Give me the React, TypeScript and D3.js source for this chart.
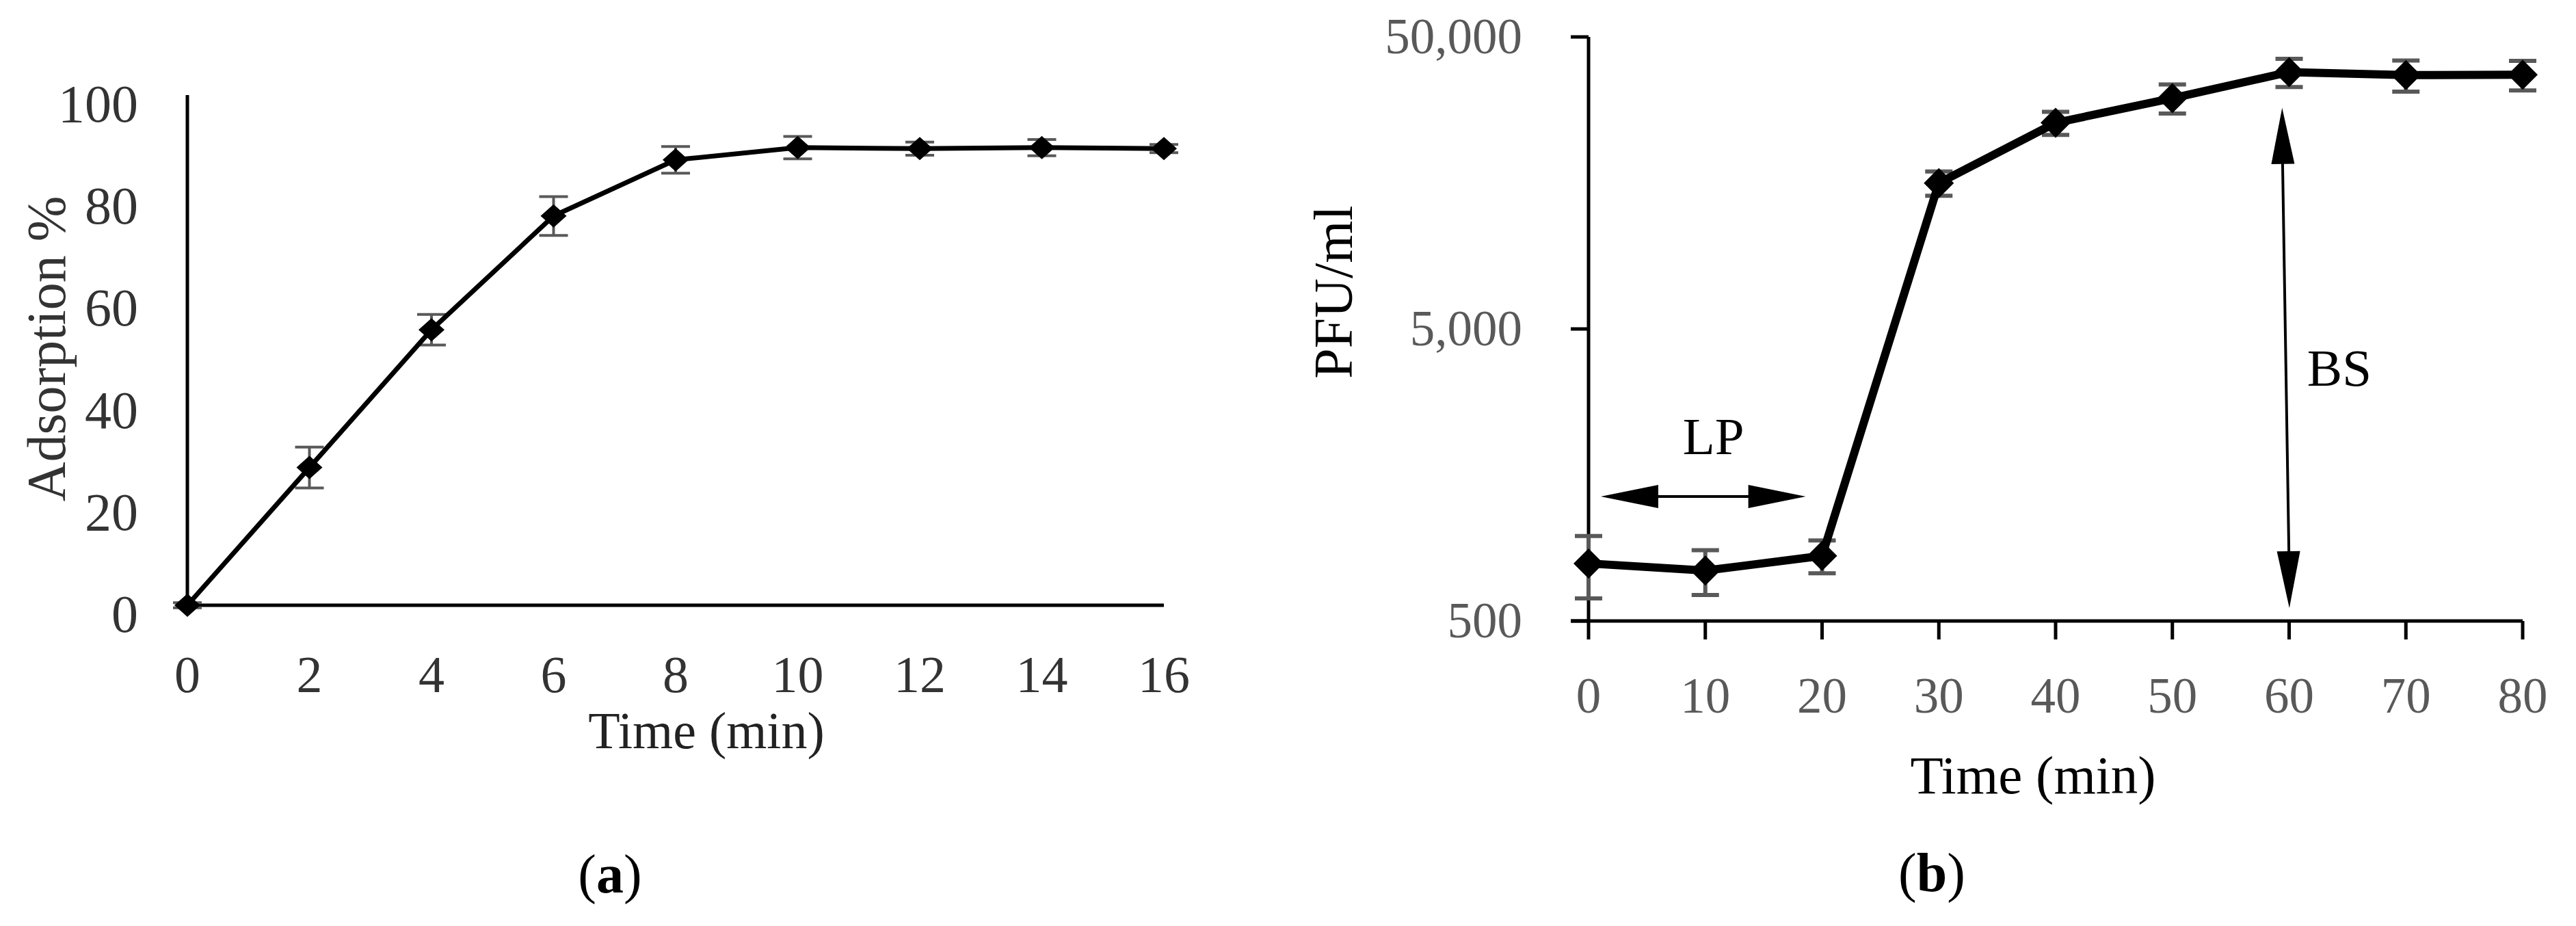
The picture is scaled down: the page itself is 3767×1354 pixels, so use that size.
import React from "react";
import * as d3 from "d3";

// ---------- Panel (a): adsorption ----------
const adsTime = [0, 2, 4, 6, 8, 10, 12, 14, 16];
const adsValue = [0, 27, 54, 76.3, 87.3, 89.7, 89.5, 89.7, 89.5];
const adsErr = [0.5, 4, 3, 3.8, 2.6, 2.2, 1.3, 1.6, 0.8];
const adsYTicks = [0, 20, 40, 60, 80, 100];
const adsXTicks = [0, 2, 4, 6, 8, 10, 12, 14, 16];

// ---------- Panel (b): one-step growth ----------
const pfuTime = [0, 10, 20, 30, 40, 50, 60, 70, 80];
const pfuValue = [787, 744, 836, 15800, 25400, 30850, 37900, 37000, 37100];
const pfuErr = [190, 130, 108, 1500, 2300, 3500, 4200, 4500, 4300];
const pfuYTicks = [500, 5000, 50000];
const pfuXTicks = [0, 10, 20, 30, 40, 50, 60, 70, 80];

// annotations (data units)
const lpArrow = { t0: 1.05, t1: 18.6, v: 1335 };
const lpLabel = { t: 10.7, text: "LP" };
const bsArrow = { t0: 59.4, v0: 28570, t1: 60.02, v1: 554 };
const bsLabel = { t: 64.3, text: "BS" };

const W = 3767;
const H = 1354;

function diamond(x: number, y: number, rx: number, ry: number) {
  return `M${x},${y - ry}L${x + rx},${y}L${x},${y + ry}L${x - rx},${y}Z`;
}

function arrowHead(x: number, y: number, angle: number, len: number, half: number) {
  const bx = x - Math.cos(angle) * len;
  const by = y - Math.sin(angle) * len;
  const px = -Math.sin(angle) * half;
  const py = Math.cos(angle) * half;
  return `M${x},${y}L${bx + px},${by + py}L${bx - px},${by - py}Z`;
}

export default function App() {
  const xA = d3.scaleLinear().domain([0, 16]).range([274, 1702]);
  const yA = d3.scaleLinear().domain([0, 100]).range([885, 139]);
  const lineA = d3
    .line<number>()
    .x((_, i) => xA(adsTime[i]))
    .y((d) => yA(d));

  const xB = d3.scaleLinear().domain([0, 80]).range([2323, 3689]);
  const yB = d3.scaleLog().domain([500, 50000]).range([908, 54]);
  const lineB = d3
    .line<number>()
    .x((_, i) => xB(pfuTime[i]))
    .y((d) => yB(d));

  const font = "'Liberation Serif', 'Times New Roman', serif";

  const lpx0 = xB(lpArrow.t0);
  const lpx1 = xB(lpArrow.t1);
  const lpy = yB(lpArrow.v);
  const bsx0 = xB(bsArrow.t0);
  const bsy0 = yB(bsArrow.v0);
  const bsx1 = xB(bsArrow.t1);
  const bsy1 = yB(bsArrow.v1);
  const bsAng = Math.atan2(bsy1 - bsy0, bsx1 - bsx0);

  return (
    <svg
      width={W}
      height={H}
      viewBox={`0 0 ${W} ${H}`}
      style={{ position: "absolute", left: 0, top: 0, background: "#fff" }}
    >
      <rect x={0} y={0} width={W} height={H} fill="#fff" />

      {/* ================= Panel (a) ================= */}
      <g fontFamily={font}>
        <line x1={xA(0)} y1={yA(100)} x2={xA(0)} y2={yA(0)} stroke="#000" strokeWidth={5} />
        <line x1={xA(0)} y1={yA(0)} x2={xA(16)} y2={yA(0)} stroke="#000" strokeWidth={5} />
        {adsYTicks.map((v) => (
          <text key={"ay" + v} x={202} y={yA(v) + 39} textAnchor="end" fontSize={78} fill="#333">
            {v}
          </text>
        ))}
        {adsXTicks.map((v) => (
          <text key={"ax" + v} x={xA(v)} y={1012} textAnchor="middle" fontSize={76} fill="#333">
            {v}
          </text>
        ))}
        <text x={1033} y={1094} textAnchor="middle" fontSize={76} fill="#222">
          Time (min)
        </text>
        <text
          transform={`translate(95,510) rotate(-90)`}
          textAnchor="middle"
          fontSize={80}
          fill="#333"
        >
          Adsorption %
        </text>

        {adsValue.map((v, i) => {
          const x = xA(adsTime[i]);
          const y0 = yA(v - adsErr[i]);
          const y1 = yA(v + adsErr[i]);
          return (
            <g key={"ae" + i} stroke="#595959" strokeWidth={4}>
              <line x1={x} x2={x} y1={y0} y2={y1} />
              <line x1={x - 21} x2={x + 21} y1={y0} y2={y0} />
              <line x1={x - 21} x2={x + 21} y1={y1} y2={y1} />
            </g>
          );
        })}
        <path d={lineA(adsValue) || ""} fill="none" stroke="#000" strokeWidth={7} />
        {adsValue.map((v, i) => (
          <path key={"am" + i} d={diamond(xA(adsTime[i]), yA(v), 19, 17)} fill="#000" />
        ))}

        <text x={892} y={1305} textAnchor="middle" fontSize={80} fill="#000">
          (<tspan fontWeight="bold">a</tspan>)
        </text>
      </g>

      {/* ================= Panel (b) ================= */}
      <g fontFamily={font}>
        <line x1={xB(0)} y1={yB(50000)} x2={xB(0)} y2={yB(500)} stroke="#000" strokeWidth={5} />
        <line x1={xB(0) - 26} y1={yB(500)} x2={xB(80)} y2={yB(500)} stroke="#000" strokeWidth={5} />
        {pfuYTicks.map((v) => (
          <g key={"by" + v}>
            <line x1={xB(0) - 26} x2={xB(0)} y1={yB(v)} y2={yB(v)} stroke="#000" strokeWidth={5} />
            <text x={2226} y={yB(v) + 24} textAnchor="end" fontSize={73} fill="#595959">
              {d3.format(",")(v)}
            </text>
          </g>
        ))}
        {pfuXTicks.map((v) => (
          <g key={"bx" + v}>
            <line x1={xB(v)} x2={xB(v)} y1={yB(500)} y2={yB(500) + 27} stroke="#000" strokeWidth={5} />
            <text x={xB(v)} y={1042} textAnchor="middle" fontSize={73} fill="#595959">
              {v}
            </text>
          </g>
        ))}
        <text x={2973} y={1160} textAnchor="middle" fontSize={79} fill="#000">
          Time (min)
        </text>
        <text
          transform={`translate(1977,427) rotate(-90)`}
          textAnchor="middle"
          fontSize={80}
          fill="#000"
        >
          PFU/ml
        </text>

        {pfuValue.map((v, i) => {
          const x = xB(pfuTime[i]);
          const y0 = yB(v - pfuErr[i]);
          const y1 = yB(v + pfuErr[i]);
          return (
            <g key={"be" + i} stroke="#595959" strokeWidth={6}>
              <line x1={x} x2={x} y1={y0} y2={y1} />
              <line x1={x - 20} x2={x + 20} y1={y0} y2={y0} />
              <line x1={x - 20} x2={x + 20} y1={y1} y2={y1} />
            </g>
          );
        })}
        <path
          d={lineB(pfuValue) || ""}
          fill="none"
          stroke="#000"
          strokeWidth={12}
          strokeLinejoin="round"
        />
        {pfuValue.map((v, i) => (
          <path key={"bm" + i} d={diamond(xB(pfuTime[i]), yB(v), 22, 22)} fill="#000" />
        ))}

        {/* LP arrow */}
        <line x1={lpx0 + 40} x2={lpx1 - 40} y1={lpy} y2={lpy} stroke="#000" strokeWidth={4} />
        <path d={arrowHead(lpx0, lpy, Math.PI, 84, 17)} fill="#000" />
        <path d={arrowHead(lpx1, lpy, 0, 84, 17)} fill="#000" />
        <text x={xB(lpLabel.t)} y={lpy - 62} textAnchor="middle" fontSize={77} fill="#000">
          {lpLabel.text}
        </text>

        {/* BS arrow */}
        <line x1={bsx0} x2={bsx1} y1={bsy0 + 40} y2={bsy1 - 40} stroke="#000" strokeWidth={4} />
        <path d={arrowHead(bsx0, bsy0, bsAng + Math.PI, 82, 17)} fill="#000" />
        <path d={arrowHead(bsx1, bsy1, bsAng, 83, 17)} fill="#000" />
        <text x={xB(bsLabel.t)} y={564} textAnchor="middle" fontSize={77} fill="#000">
          {bsLabel.text}
        </text>

        <text x={2825} y={1303} textAnchor="middle" fontSize={80} fill="#000">
          (<tspan fontWeight="bold">b</tspan>)
        </text>
      </g>
    </svg>
  );
}
